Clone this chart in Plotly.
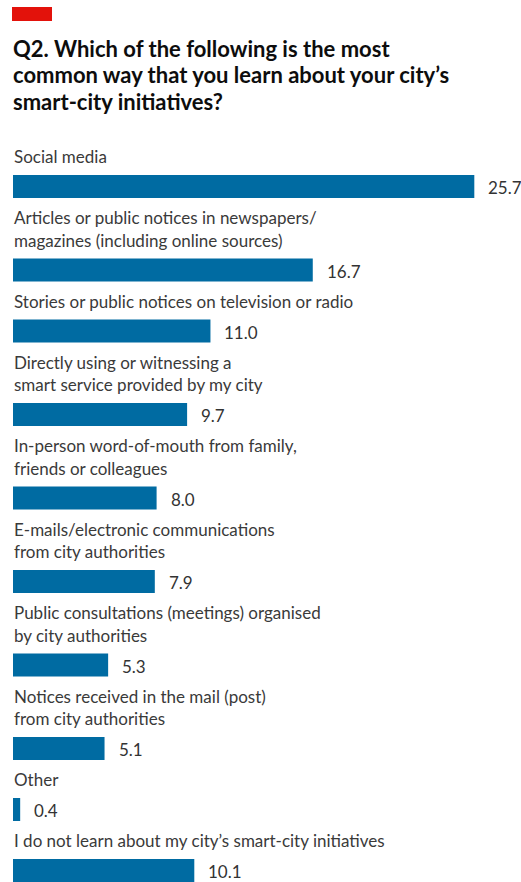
import plotly.graph_objects as go

# Survey answers, in the order they are listed
categories = [
    "Social media",
    "Articles or public notices in newspapers/<br>magazines (including online sources)",
    "Stories or public notices on television or radio",
    "Directly using or witnessing a<br>smart service provided by my city",
    "In-person word-of-mouth from family,<br>friends or colleagues",
    "E-mails/electronic communications<br>from city authorities",
    "Public consultations (meetings) organised<br>by city authorities",
    "Notices received in the mail (post)<br>from city authorities",
    "Other",
    "I do not learn about my city’s smart-city initiatives",
]
values = [25.7, 16.7, 11.0, 9.7, 8.0, 7.9, 5.3, 5.1, 0.4, 10.1]

title_lines = [
    "Q2. Which of the following is the most",
    "common way that you learn about your city’s",
    "smart-city initiatives?",
]

W, H = 521, 882
LEFT = 13          # pixel where bars start
SCALE = 17.95      # pixels per percentage point
BAR_H = 23
LINE_GAP = 22.5
LABEL_TO_BAR = 12
BAR_TO_LABEL = 26
FIRST_BASELINE = 163

BLUE = "#006BA2"
RED = "#E3120B"
TEXT = "#3a3a3a"
FONT = "Lato"

# Stack each label (one or more lines) above its bar
centers, label_rows = [], []
cursor = FIRST_BASELINE
for cat in categories:
    lines = cat.split("<br>")
    for i, line in enumerate(lines):
        label_rows.append((line, cursor))
        if i < len(lines) - 1:
            cursor += LINE_GAP
    top = cursor + LABEL_TO_BAR
    centers.append(top + BAR_H / 2)
    cursor = top + BAR_H + BAR_TO_LABEL

fig = go.Figure(
    go.Bar(
        x=values,
        y=centers,
        orientation="h",
        width=BAR_H,
        marker=dict(color=BLUE, line=dict(width=0)),
        hoverinfo="skip",
    )
)

annotations = []
for line, baseline in label_rows:
    annotations.append(dict(
        x=0, y=baseline, xref="x", yref="y", text=line, showarrow=False,
        xanchor="left", yanchor="bottom", xshift=-1, yshift=-6,
        font=dict(family=FONT, size=17, color=TEXT),
    ))

for v, c in zip(values, centers):
    annotations.append(dict(
        x=v, y=c, xref="x", yref="y", text=f"{v:.1f}", showarrow=False,
        xanchor="left", yanchor="middle", xshift=12, yshift=-1,
        font=dict(family=FONT, size=17, color="#333333"),
    ))

for i, line in enumerate(title_lines):
    annotations.append(dict(
        x=12 / W, y=1 - (58 + 26.5 * i) / H, xref="paper", yref="paper",
        text=f"<b>{line}</b>", showarrow=False,
        xanchor="left", yanchor="bottom", yshift=-6, xshift=-1,
        font=dict(family=FONT, size=22, color="#0d0d0d"),
    ))

fig.update_layout(
    width=W, height=H,
    margin=dict(l=0, r=0, t=0, b=0),
    paper_bgcolor="white", plot_bgcolor="white",
    showlegend=False,
    xaxis=dict(range=[-LEFT / SCALE, (W - LEFT) / SCALE], visible=False, fixedrange=True),
    yaxis=dict(range=[H, 0], visible=False, fixedrange=True),
    annotations=annotations,
    shapes=[dict(
        type="rect", xref="paper", yref="paper",
        x0=12 / W, x1=52 / W, y0=1 - 21 / H, y1=1 - 7 / H,
        fillcolor=RED, line=dict(width=0),
    )],
)

fig.write_html("out.html", config={"displayModeBar": False})
